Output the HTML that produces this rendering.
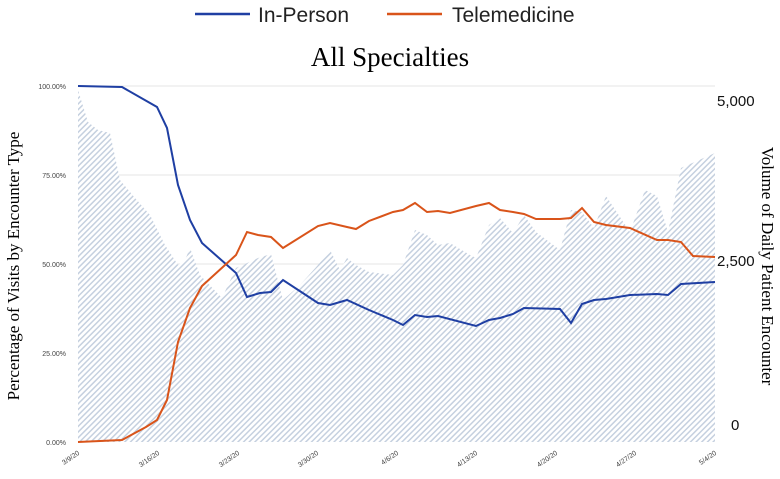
<!DOCTYPE html><html><head><style>body{margin:0;background:#fff}svg{display:block}</style></head><body>
<svg width="780" height="479" xmlns="http://www.w3.org/2000/svg">
<defs><pattern id="h" width="4" height="4" patternUnits="userSpaceOnUse" patternTransform="rotate(45)"><rect width="4" height="4" fill="#fff"/><rect width="1.5" height="4" fill="#c5d0df"/></pattern></defs>
<g font-family="Liberation Sans, sans-serif" font-size="21" fill="#222">
<line x1="195" y1="14" x2="250" y2="14" stroke="#1f3fa3" stroke-width="2.5"/><text x="258" y="22">In-Person</text>
<line x1="387" y1="14" x2="442" y2="14" stroke="#d9541a" stroke-width="2.5"/><text x="452" y="22">Telemedicine</text>
</g>
<text x="390" y="66" font-family="Liberation Serif, serif" font-size="27" text-anchor="middle">All Specialties</text>
<g stroke="#e6e6e6" stroke-width="1"><line x1="78" y1="86" x2="715" y2="86"/><line x1="78" y1="175" x2="715" y2="175"/><line x1="78" y1="264" x2="715" y2="264"/><line x1="78" y1="353" x2="715" y2="353"/></g>
<polygon fill="url(#h)" points="78,442 78,90 88,122 98,130 110,133 120,180 135,198 150,215 165,245 178,265 185,260 190,248 200,275 222,298 236,268 245,264 258,258 271,254 283,300 300,285 318,265 330,250 340,270 347,258 356,265 369,272 393,275 403,265 415,230 427,235 438,245 450,243 470,255 476,258 489,225 500,218 513,233 524,215 536,232 560,250 571,210 582,212 594,228 606,196 630,232 645,190 657,196 668,232 681,168 715,153 715,442"/>
<polyline fill="none" stroke="#1f3fa3" stroke-width="2" points="78,86 122,87 157,107 167,128 178,185 190,220 202,243 236,273 247,297 260,293 271,292 283,280 318,303 330,305 347,300 369,310 393,320 403,325 415,315 427,317 438,316 476,326 489,320 500,318 513,314 524,308 560,309 571,323 582,304 594,300 606,299 630,295 657,294 668,295 681,284 715,282"/>
<polyline fill="none" stroke="#d9541a" stroke-width="2" points="78,442 122,440 146,427 157,420 167,400 178,342 190,308 202,286 236,255 247,232 258,235 271,237 283,248 318,226 330,223 347,227 356,229 369,221 393,212 403,210 415,203 427,212 438,211 450,213 476,206 489,203 500,210 513,212 524,214 536,219 560,219 571,218 582,208 594,222 606,225 630,228 657,240 668,240 681,242 693,256 715,257"/>
<g font-family="Liberation Sans, sans-serif" font-size="7" fill="#444" text-anchor="end">
<text x="66" y="89">100.00%</text><text x="66" y="178">75.00%</text><text x="66" y="267">50.00%</text><text x="66" y="356">25.00%</text><text x="66" y="445">0.00%</text>
</g>
<g font-family="Liberation Sans, sans-serif" font-size="7" fill="#444" text-anchor="end">
<text transform="translate(80,454) rotate(-35)">3/9/20</text><text transform="translate(160,454) rotate(-35)">3/16/20</text><text transform="translate(240,454) rotate(-35)">3/23/20</text><text transform="translate(319,454) rotate(-35)">3/30/20</text><text transform="translate(399,454) rotate(-35)">4/6/20</text><text transform="translate(478,454) rotate(-35)">4/13/20</text><text transform="translate(558,454) rotate(-35)">4/20/20</text><text transform="translate(637,454) rotate(-35)">4/27/20</text><text transform="translate(717,454) rotate(-35)">5/4/20</text>
</g>
<g font-family="Liberation Sans, sans-serif" font-size="15" fill="#111">
<text x="717" y="106">5,000</text><text x="717" y="266">2,500</text><text x="731" y="430">0</text>
</g>
<text transform="translate(19,266) rotate(-90)" font-family="Liberation Serif, serif" font-size="17" text-anchor="middle">Percentage of Visits by Encounter Type</text>
<text transform="translate(762,266) rotate(90)" font-family="Liberation Serif, serif" font-size="17" text-anchor="middle">Volume of Daily Patient Encounter</text>
</svg></body></html>
